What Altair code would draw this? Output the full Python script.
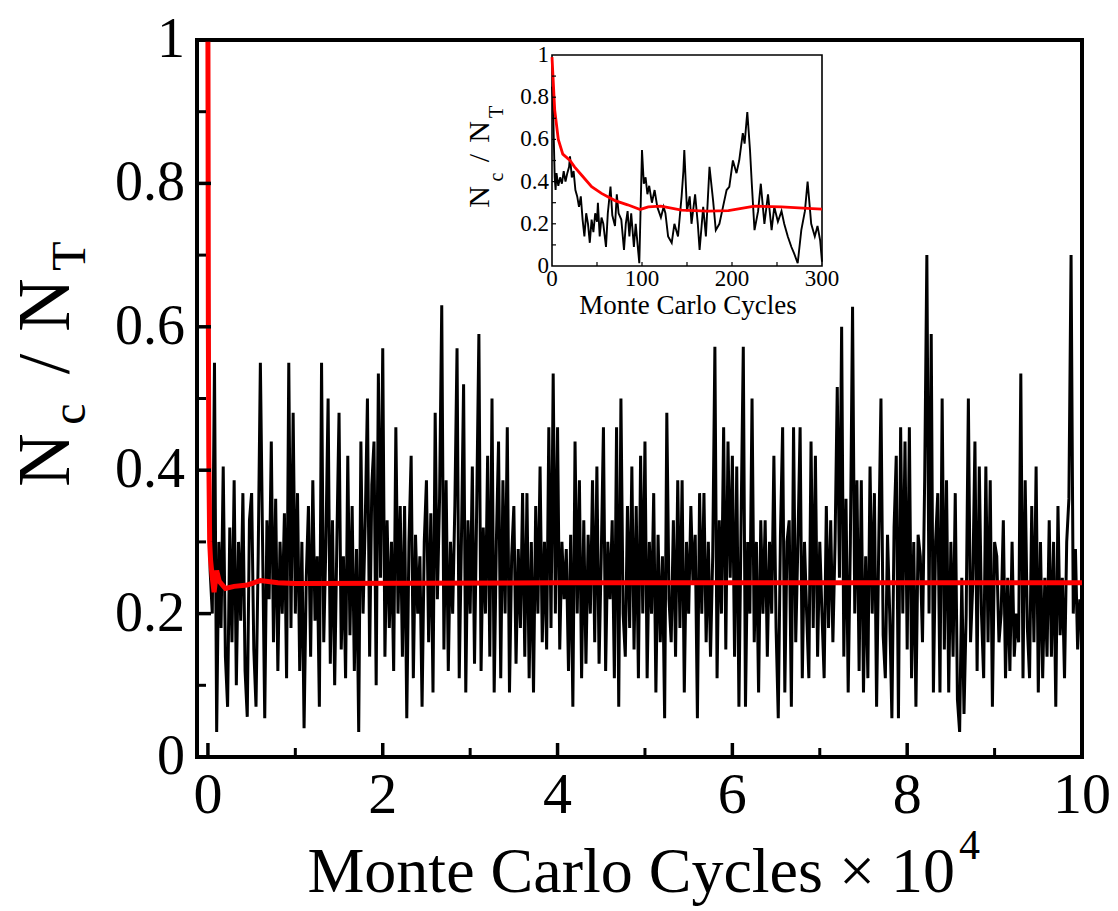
import altair as alt
import pandas as pd

# ---------------- data ----------------
# main panel: black trace, one value every 0.025 x 10^4 cycles
STEP = 0.025
ratio_main = [
    # 0 .. 1
    0.80, 0.26, 0.20, 0.55, 0.035, 0.30, 0.18, 0.405, 0.14, 0.07,
    0.32, 0.16, 0.386, 0.10, 0.30, 0.19, 0.368, 0.12, 0.056, 0.33,
    0.368, 0.15, 0.07, 0.28, 0.55, 0.30, 0.054, 0.33, 0.22, 0.44,
    0.16, 0.36, 0.12, 0.30, 0.20, 0.34, 0.11, 0.55, 0.18, 0.48,
    # 1 .. 2
    0.20, 0.368, 0.12, 0.30, 0.04, 0.25, 0.35, 0.14, 0.386, 0.19,
    0.28, 0.07, 0.55, 0.16, 0.30, 0.50, 0.13, 0.33, 0.10, 0.30,
    0.48, 0.15, 0.28, 0.11, 0.42, 0.17, 0.35, 0.12, 0.29, 0.035,
    0.44, 0.20, 0.33, 0.50, 0.14, 0.38, 0.44, 0.10, 0.535, 0.25,
    # 2 .. 3
    0.57, 0.14, 0.33, 0.18, 0.30, 0.12, 0.46, 0.20, 0.35, 0.14,
    0.35, 0.054, 0.30, 0.42, 0.11, 0.31, 0.20, 0.28, 0.07, 0.30,
    0.386, 0.16, 0.34, 0.09, 0.48, 0.22, 0.36, 0.63, 0.15, 0.386,
    0.12, 0.30, 0.20, 0.35, 0.57, 0.11, 0.30, 0.52, 0.09, 0.33,
    # 3 .. 4
    0.20, 0.405, 0.13, 0.35, 0.59, 0.12, 0.32, 0.20, 0.42, 0.14,
    0.50, 0.09, 0.30, 0.44, 0.11, 0.386, 0.20, 0.46, 0.09, 0.28,
    0.35, 0.13, 0.29, 0.18, 0.368, 0.14, 0.368, 0.11, 0.30, 0.09,
    0.35, 0.20, 0.405, 0.16, 0.30, 0.15, 0.46, 0.18, 0.535, 0.20,
    # 4 .. 5
    0.46, 0.15, 0.30, 0.22, 0.29, 0.12, 0.31, 0.07, 0.44, 0.20,
    0.386, 0.11, 0.33, 0.13, 0.31, 0.20, 0.386, 0.16, 0.405, 0.13,
    0.28, 0.46, 0.12, 0.30, 0.22, 0.33, 0.11, 0.46, 0.07, 0.50,
    0.20, 0.14, 0.35, 0.18, 0.405, 0.15, 0.35, 0.11, 0.42, 0.20,
    # 5 .. 6
    0.44, 0.11, 0.30, 0.20, 0.368, 0.09, 0.31, 0.16, 0.28, 0.054,
    0.48, 0.22, 0.16, 0.33, 0.14, 0.386, 0.18, 0.386, 0.09, 0.30,
    0.20, 0.35, 0.24, 0.31, 0.054, 0.368, 0.20, 0.368, 0.16, 0.30,
    0.14, 0.28, 0.572, 0.11, 0.33, 0.20, 0.46, 0.15, 0.44, 0.25,
    # 6 .. 7
    0.42, 0.14, 0.405, 0.07, 0.33, 0.572, 0.07, 0.30, 0.20, 0.50,
    0.16, 0.30, 0.09, 0.33, 0.20, 0.33, 0.14, 0.30, 0.20, 0.42,
    0.18, 0.054, 0.31, 0.46, 0.09, 0.30, 0.33, 0.07, 0.46, 0.16,
    0.30, 0.46, 0.11, 0.30, 0.20, 0.11, 0.44, 0.18, 0.42, 0.14,
    # 7 .. 8
    0.30, 0.20, 0.11, 0.35, 0.18, 0.33, 0.16, 0.30, 0.516, 0.25,
    0.60, 0.14, 0.36, 0.09, 0.30, 0.628, 0.20, 0.386, 0.12, 0.386,
    0.09, 0.28, 0.11, 0.405, 0.20, 0.368, 0.07, 0.30, 0.50, 0.17,
    0.11, 0.31, 0.20, 0.054, 0.32, 0.42, 0.054, 0.46, 0.20, 0.44,
    # 8 .. 9
    0.15, 0.46, 0.11, 0.30, 0.07, 0.31, 0.28, 0.16, 0.386, 0.70,
    0.20, 0.59, 0.09, 0.30, 0.368, 0.09, 0.50, 0.15, 0.386, 0.09,
    0.30, 0.14, 0.368, 0.08, 0.035, 0.25, 0.06, 0.20, 0.50, 0.16,
    0.24, 0.44, 0.12, 0.405, 0.20, 0.11, 0.405, 0.16, 0.386, 0.07,
    # 9 .. 10
    0.30, 0.28, 0.16, 0.20, 0.33, 0.11, 0.25, 0.12, 0.30, 0.14,
    0.20, 0.16, 0.535, 0.11, 0.386, 0.18, 0.11, 0.35, 0.16, 0.405,
    0.09, 0.30, 0.11, 0.25, 0.14, 0.33, 0.14, 0.30, 0.07, 0.35,
    0.17, 0.25, 0.11, 0.30, 0.36, 0.70, 0.20, 0.29, 0.15, 0.22,
]

# main panel: red running average
avg_main_x = [0.0, 0.002, 0.005, 0.01, 0.02, 0.03, 0.05, 0.07, 0.10, 0.13,
              0.20, 0.30, 0.45, 0.60, 0.80, 1.0, 4.0, 7.0, 10.0]
avg_main_y = [1.0, 0.85, 0.60, 0.42, 0.30, 0.275, 0.25, 0.23, 0.26, 0.245,
              0.235, 0.238, 0.24, 0.246, 0.243, 0.242, 0.243, 0.243, 0.243]

# inset: black trace (first 300 cycles)
inset_x = [0, 1, 2, 3, 4, 5, 7, 9, 11, 13, 15, 17, 19, 20, 22, 24, 26, 28, 30,
           32, 34, 36, 38, 40, 42, 44, 46, 48, 50, 51, 53, 55, 57, 60, 62, 65,
           67, 70, 72, 74, 77, 80, 82, 84, 86, 88, 91, 93, 96, 97, 100, 102,
           104, 106, 108, 111, 114, 117, 121, 124, 126, 129, 133, 136, 140,
           144, 146, 147, 150, 153, 155, 159, 162, 164, 168, 171, 175, 179,
           182, 186, 190, 194, 197, 201, 205, 208, 212, 214, 217, 220, 222,
           225, 229, 232, 236, 240, 244, 247, 251, 255, 258, 262, 266, 269,
           273, 277, 281, 284, 288, 292, 295, 298, 300]
inset_y = [0.85, 0.80, 0.60, 0.42, 0.36, 0.44, 0.38, 0.42, 0.39, 0.45, 0.40,
           0.44, 0.47, 0.52, 0.42, 0.45, 0.36, 0.33, 0.28, 0.33, 0.22, 0.14,
           0.25, 0.20, 0.11, 0.22, 0.16, 0.25, 0.21, 0.30, 0.14, 0.23, 0.20,
           0.09, 0.25, 0.376, 0.24, 0.19, 0.34, 0.25, 0.22, 0.076, 0.20, 0.26,
           0.14, 0.25, 0.09, 0.20, 0.06, 0.013, 0.55, 0.39, 0.42, 0.34, 0.38,
           0.30, 0.36, 0.28, 0.23, 0.28, 0.25, 0.14, 0.11, 0.20, 0.14, 0.33,
           0.45, 0.55, 0.26, 0.33, 0.20, 0.34, 0.20, 0.076, 0.28, 0.14, 0.47,
           0.31, 0.17, 0.20, 0.28, 0.36, 0.375, 0.50, 0.44, 0.50, 0.63, 0.58,
           0.73, 0.55, 0.39, 0.17, 0.26, 0.39, 0.20, 0.34, 0.17, 0.28, 0.21,
           0.26, 0.20, 0.14, 0.09, 0.06, 0.013, 0.17, 0.26, 0.40, 0.20, 0.14,
           0.19, 0.12, 0.02]

# inset: red running average
inset_avg_x = [0, 3, 7, 12, 20, 25, 33, 44, 55, 70, 84, 98, 107, 121, 144,
               173, 196, 225, 255, 284, 300]
inset_avg_y = [0.99, 0.74, 0.60, 0.53, 0.50, 0.47, 0.43, 0.376, 0.344, 0.31,
               0.29, 0.268, 0.28, 0.284, 0.265, 0.26, 0.262, 0.284, 0.28,
               0.273, 0.27]

# axis ticks / labels
main_x_major = [0, 2, 4, 6, 8, 10]
main_x_minor = [1, 3, 5, 7, 9]
main_y_major = [0, 0.2, 0.4, 0.6, 0.8, 1.0]
main_y_minor = [0.1, 0.3, 0.5, 0.7, 0.9]
main_y_labels = ["0", "0.2", "0.4", "0.6", "0.8", "1"]
inset_x_ticks = [50, 100, 150, 200, 250]
inset_x_labels_at = [0, 100, 200, 300]
inset_y_ticks = [0.1, 0.2, 0.3, 0.4, 0.5, 0.6, 0.7, 0.8, 0.9]

# ---------------- layout ----------------
FONT = "Liberation Serif"
W, H = 885, 717
LEFT, TOP = 197, 40
X_DOMAIN = [-0.125, 10]

main_df = pd.DataFrame({"x": [i * STEP for i in range(len(ratio_main))],
                        "y": ratio_main})
avg_df = pd.DataFrame({"x": avg_main_x, "y": avg_main_y})
inset_df = pd.DataFrame({"x": inset_x, "y": inset_y})
inset_avg_df = pd.DataFrame({"x": inset_avg_x, "y": inset_avg_y})

xs = alt.Scale(domain=X_DOMAIN, nice=False, zero=False)
ys = alt.Scale(domain=[0, 1], nice=False, zero=False)

def X(field="x"):
    return alt.X(f"{field}:Q", scale=xs, axis=None)

def Y(field="y"):
    return alt.Y(f"{field}:Q", scale=ys, axis=None)

black = alt.Chart(main_df).mark_line(color="black", strokeWidth=3.0).encode(x=X(), y=Y())
red = alt.Chart(avg_df).mark_line(color="#ff0000", strokeWidth=5).encode(x=X(), y=Y())

xmaj = alt.Chart(pd.DataFrame({"t": main_x_major})).mark_rule(color="black", strokeWidth=3.5).encode(
    x=X("t"), y=alt.value(H), y2=alt.value(H - 14))
xmin = alt.Chart(pd.DataFrame({"t": main_x_minor})).mark_rule(color="black", strokeWidth=3).encode(
    x=X("t"), y=alt.value(H), y2=alt.value(H - 9))
ymaj = alt.Chart(pd.DataFrame({"t": main_y_major})).mark_rule(color="black", strokeWidth=3.5).encode(
    y=Y("t"), x=alt.value(0), x2=alt.value(14))
ymin = alt.Chart(pd.DataFrame({"t": main_y_minor})).mark_rule(color="black", strokeWidth=3).encode(
    y=Y("t"), x=alt.value(0), x2=alt.value(9))

ylab = alt.Chart(pd.DataFrame({"t": main_y_major, "lab": main_y_labels})).mark_text(
    font=FONT, fontSize=56, align="right", baseline="middle", color="black").encode(
    y=Y("t"), x=alt.value(-12), text="lab:N")
xlab = alt.Chart(pd.DataFrame({"t": main_x_major, "lab": [str(v) for v in main_x_major]})).mark_text(
    font=FONT, fontSize=58, align="center", baseline="top", color="black").encode(
    x=X("t"), y=alt.value(H + 10), text="lab:N")

one = pd.DataFrame({"a": [0]})

def label(txt, x, y, size, angle=0, align="center", baseline="middle"):
    kw = dict(font=FONT, fontSize=size, align=align, baseline=baseline, color="black", text=txt)
    if angle:
        kw["angle"] = angle
    return alt.Chart(one).mark_text(**kw).encode(x=alt.value(x), y=alt.value(y))

xtitle = label("Monte Carlo Cycles \u00d7 10", 758, 852, 64, align="right", baseline="alphabetic")
xtitle_exp = label("4", 762, 819, 42, align="left", baseline="alphabetic")
ytitle = [
    label("N", -150, 420, 74, angle=270),
    label("c", -126, 374, 48, angle=270),
    label("/", -150, 324, 74, angle=270),
    label("N", -150, 265, 74, angle=270),
    label("T", -126, 216, 48, angle=270),
]

main = alt.layer(black, red, xmaj, xmin, ymaj, ymin, ylab, xlab, xtitle, xtitle_exp, *ytitle)

# ---------------- inset ----------------
IX0, IX1 = 552 - LEFT, 822 - LEFT
IY0, IY1 = 266 - TOP, 55 - TOP
xi = alt.Scale(domain=[0, 300], range=[IX0, IX1], nice=False, zero=False)
yi = alt.Scale(domain=[0, 1], range=[IY0, IY1], nice=False, zero=False)

def XI(field="x"):
    return alt.X(f"{field}:Q", scale=xi, axis=None)

def YI(field="y"):
    return alt.Y(f"{field}:Q", scale=yi, axis=None)

frame = alt.Chart(pd.DataFrame({"x0": [0], "x1": [300], "y0": [0], "y1": [1]})).mark_rect(
    fill="white", stroke="black", strokeWidth=1.6).encode(
    x=XI("x0"), x2="x1:Q", y=YI("y0"), y2="y1:Q")
iblack = alt.Chart(inset_df).mark_line(color="black", strokeWidth=1.9).encode(x=XI(), y=YI())
ired = alt.Chart(inset_avg_df).mark_line(color="#ff0000", strokeWidth=2.8).encode(x=XI(), y=YI())
ixt = alt.Chart(pd.DataFrame({"t": inset_x_ticks})).mark_rule(color="black", strokeWidth=1.2).encode(
    x=XI("t"), y=alt.value(IY0), y2=alt.value(IY0 - 4))
iyt = alt.Chart(pd.DataFrame({"t": inset_y_ticks})).mark_rule(color="black", strokeWidth=1.2).encode(
    y=YI("t"), x=alt.value(IX0), x2=alt.value(IX0 + 4))
iylab = alt.Chart(pd.DataFrame({"t": main_y_major, "lab": main_y_labels})).mark_text(
    font=FONT, fontSize=23, align="right", baseline="middle", color="black").encode(
    y=YI("t"), x=alt.value(IX0 - 3), text="lab:N")
ixlab = alt.Chart(pd.DataFrame({"t": inset_x_labels_at, "lab": [str(v) for v in inset_x_labels_at]})).mark_text(
    font=FONT, fontSize=23, align="center", baseline="top", color="black").encode(
    x=XI("t"), y=alt.value(IY0 + 2), text="lab:N")
ixtitle = label("Monte Carlo Cycles", 491, 274, 27, baseline="alphabetic")
iytitle = [
    label("N", 283, 157, 30, angle=270),
    label("c", 300, 137, 20, angle=270),
    label("/", 283, 118, 30, angle=270),
    label("N", 283, 92, 30, angle=270),
    label("T", 300, 72, 20, angle=270),
]

inset = alt.layer(frame, iblack, ired, ixt, iyt, iylab, ixlab, ixtitle, *iytitle)

chart = alt.layer(main, inset).resolve_scale(x="independent", y="independent").properties(
    width=W, height=H,
    autosize=alt.AutoSizeParams(type="none"),
    padding={"left": LEFT, "top": TOP, "right": 1118 - LEFT - W, "bottom": 911 - TOP - H},
    background="white",
).configure_view(stroke="black", strokeWidth=4)

chart.save("out.html", embed_options={"renderer": "svg", "actions": False})
